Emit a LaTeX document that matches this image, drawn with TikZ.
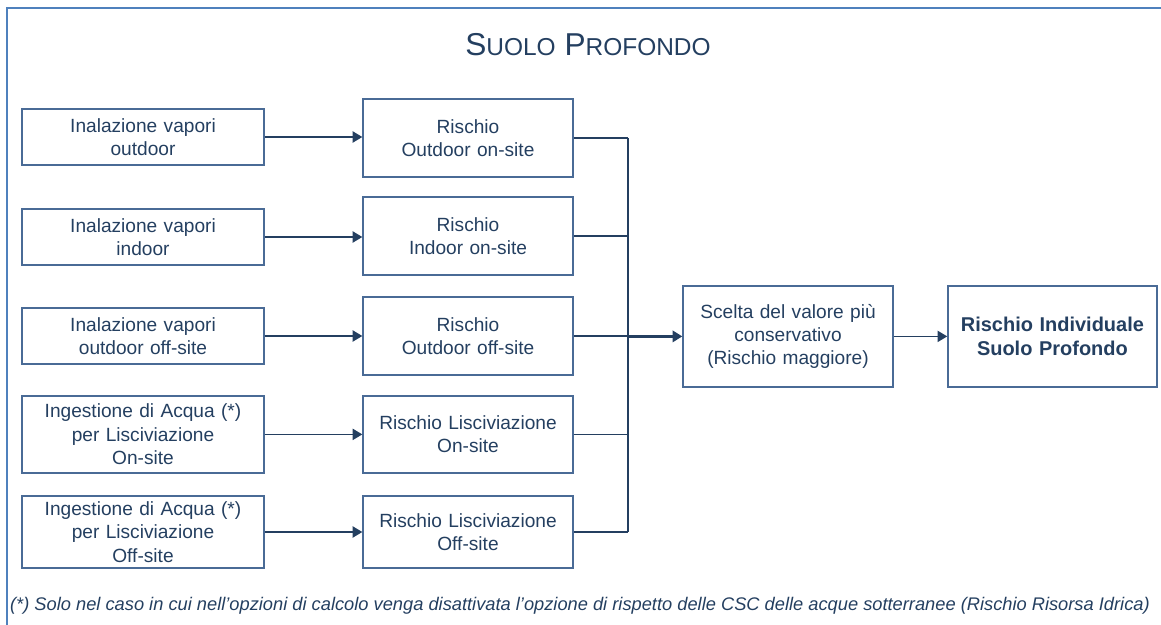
\documentclass[tikz,border=0pt]{standalone}
\usepackage{fontspec}
\setmainfont{Liberation Sans}
\usepackage{xcolor}
\usetikzlibrary{arrows.meta}
\usetikzlibrary{positioning}
\definecolor{FrameBlue}{HTML}{4F81BD}
\definecolor{BoxBlue}{HTML}{4A6B96}
\definecolor{TextNavy}{HTML}{243F60}
\tikzset{
  RiskBox/.style={
    rectangle, minimum width=5.25cm, minimum height=1.95cm,
    text width=5.1cm, align=center, inner sep=0pt,
    line width=1pt, draw=BoxBlue, text=TextNavy,
    font=\fontsize{13.6}{16.6}\selectfont,
  },
  Link/.style={line width=1pt, draw=TextNavy},
  LinkArrow/.style={-{Triangle[length=2.4mm,width=2.8mm]}, line width=1pt, draw=TextNavy},
}

\begin{document}
\begin{tikzpicture}
\useasboundingbox (0,0) rectangle (29.025,-15.625);
\draw[line width=1.5pt, draw=FrameBlue] (0.175,-15.7) -- (0.175,-0.2) -- (29.1,-0.2);
\node[text=TextNavy] (TITLE) at (14.7,-1.125) {\fontsize{22.5}{26}\selectfont S{\fontsize{17.4}{20}\selectfont UOLO} P{\fontsize{17.4}{20}\selectfont ROFONDO}};
\node[RiskBox, minimum width=6.05cm, text width=5.8cm, minimum height=1.4cm] (INOUT) at (3.575,-3.425) {Inalazione vapori\\outdoor};
\node[RiskBox, minimum width=6.05cm, text width=5.8cm, minimum height=1.4cm] (ININ) at (3.575,-5.925) {Inalazione vapori\\indoor};
\node[RiskBox, minimum width=6.05cm, text width=5.8cm, minimum height=1.4cm] (INOFF) at (3.575,-8.4) {Inalazione vapori\\outdoor off-site};
\node[RiskBox, minimum width=6.05cm, text width=5.8cm, minimum height=1.925cm] (INGON) at (3.575,-10.86) {Ingestione di Acqua (*)\\per Lisciviazione\\On-site};
\node[RiskBox, minimum width=6.05cm, text width=5.8cm, minimum height=1.8cm] (INGOFF) at (3.575,-13.3) {Ingestione di Acqua (*)\\per Lisciviazione\\Off-site};
\node[RiskBox] (ROUT) at (11.7,-3.45) {Rischio\\Outdoor on-site};
\node[RiskBox] (RIN) at (11.7,-5.9) {Rischio\\Indoor on-site};
\node[RiskBox] (ROFF) at (11.7,-8.4) {Rischio\\Outdoor off-site};
\node[RiskBox, minimum height=1.925cm] (RLON) at (11.7,-10.86) {Rischio Lisciviazione\\On-site};
\node[RiskBox, minimum height=1.8cm] (RLOFF) at (11.7,-13.3) {Rischio Lisciviazione\\Off-site};
\node[RiskBox, minimum height=2.525cm] (MAX) at (19.7,-8.41) {Scelta del valore più\\conservativo\\(Rischio maggiore)};
\node[RiskBox, minimum width=5.225cm, minimum height=2.525cm, font=\fontsize{14.2}{17}\selectfont\bfseries] (IND) at (26.31,-8.41) {Rischio Individuale\\Suolo Profondo};
\coordinate (BUS) at (15.7,-8.41);
\draw[LinkArrow] (INOUT.east) to (INOUT.east -| ROUT.west);
\draw[LinkArrow] (ININ.east) to (ININ.east -| RIN.west);
\draw[LinkArrow] (INOFF.east) to (INOFF.east -| ROFF.west);
\draw[LinkArrow] (INGON.east) to (INGON.east -| RLON.west);
\draw[LinkArrow] (INGOFF.east) to (INGOFF.east -| RLOFF.west);
\draw[Link] (ROUT.east) to (ROUT.east -| BUS);
\draw[Link] (RIN.east) to (RIN.east -| BUS);
\draw[Link] (ROFF.east) to (ROFF.east -| BUS);
\draw[Link] (RLON.east) to (RLON.east -| BUS);
\draw[Link] (RLOFF.east) to (RLOFF.east -| BUS);
\draw[Link, line width=1.4pt] (ROUT.east -| BUS) to (RLOFF.east -| BUS);
\draw[LinkArrow, line width=2.1pt] (BUS) to (MAX.west);
\draw[LinkArrow] (MAX.east) to (IND.west);
\node[text=TextNavy, font=\fontsize{13}{15}\selectfont\itshape] (NOTE) at (14.5,-15.15) {(*) Solo nel caso in cui nell’opzioni di calcolo venga disattivata l’opzione di rispetto delle CSC delle acque sotterranee (Rischio Risorsa Idrica)};
\end{tikzpicture}
\end{document}
